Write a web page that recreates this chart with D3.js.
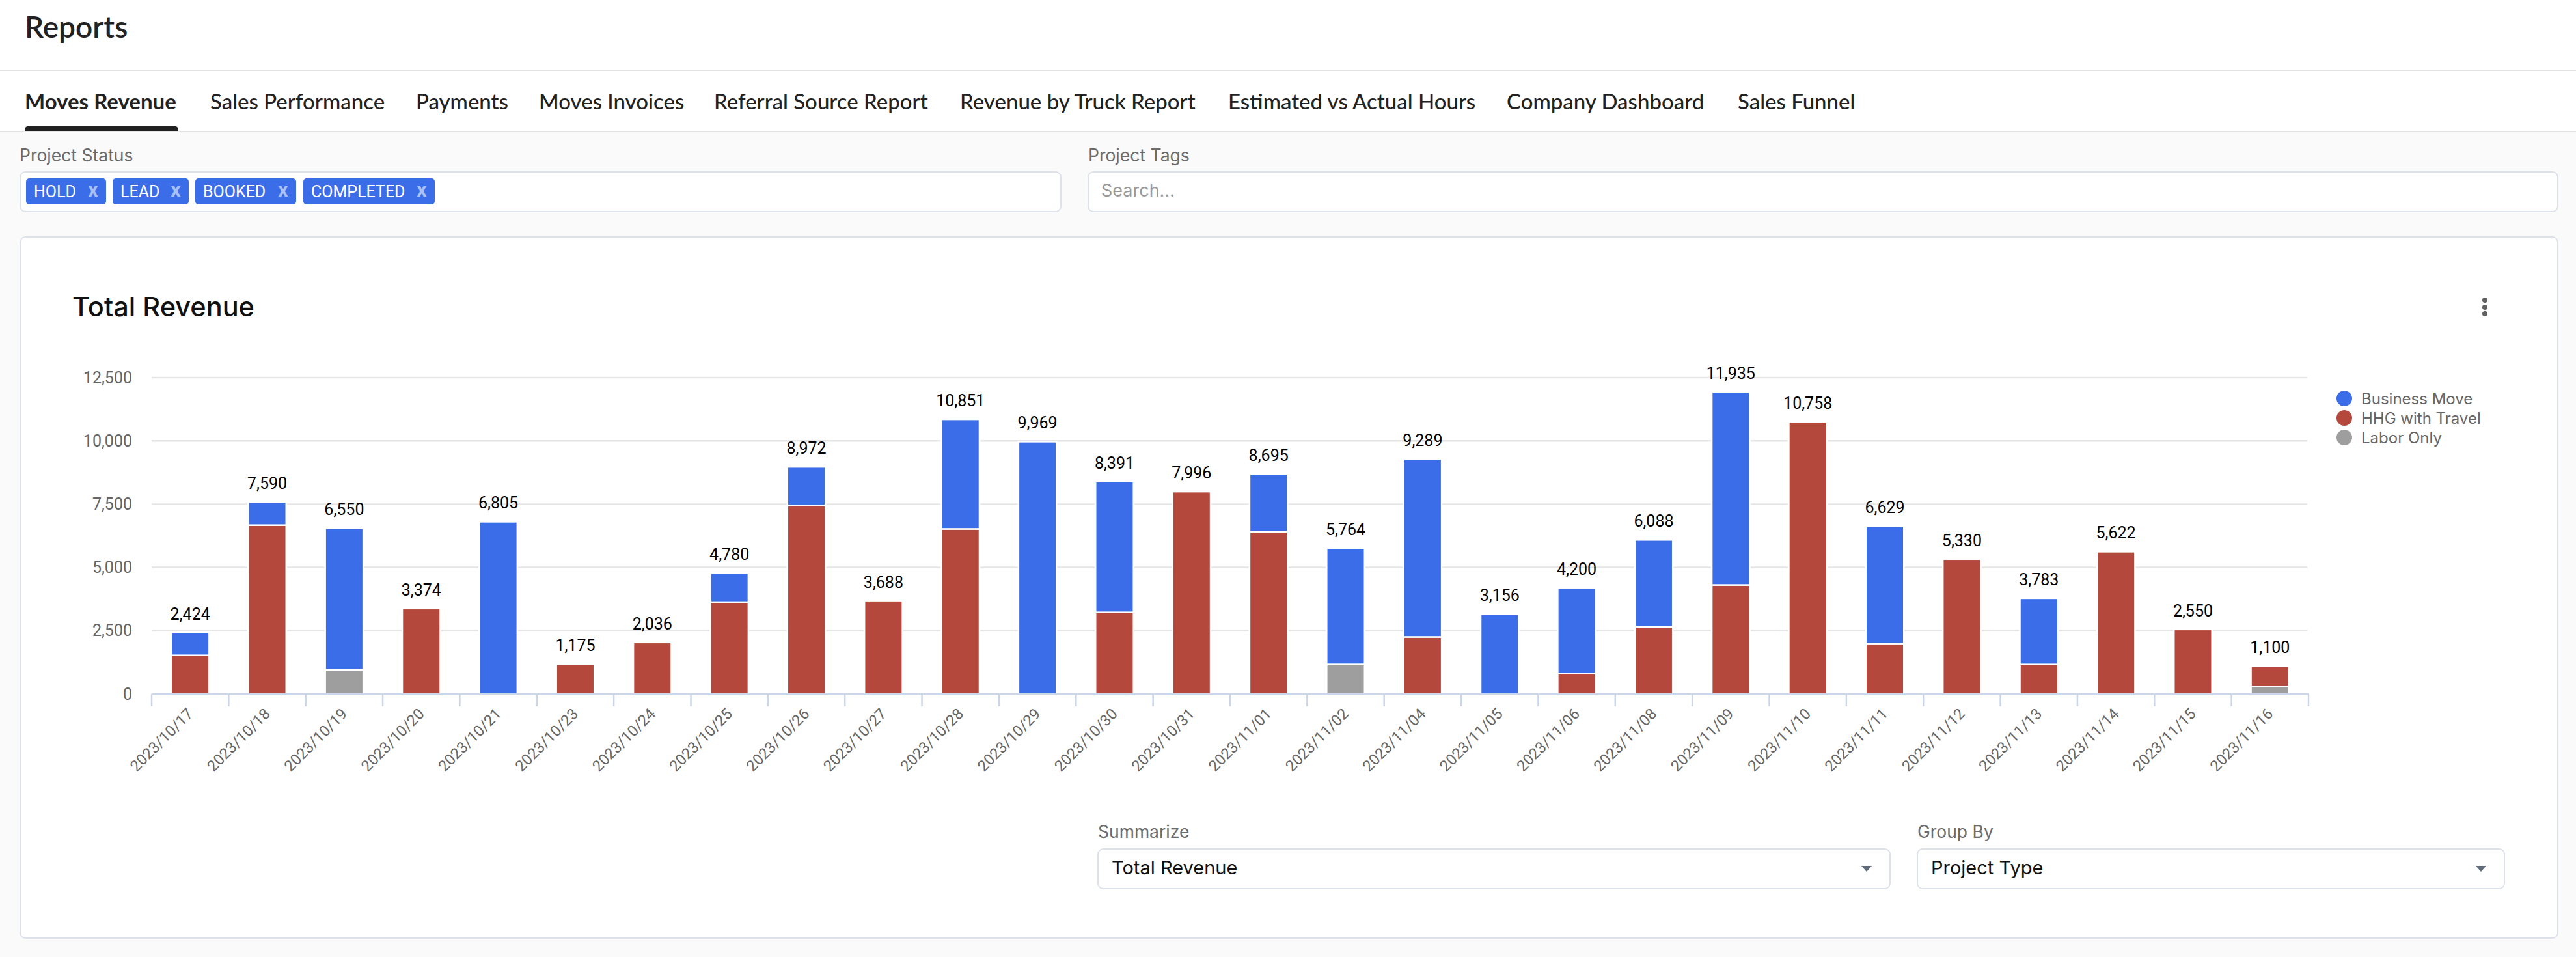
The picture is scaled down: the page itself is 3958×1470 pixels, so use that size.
<!doctype html>
<html>
<body>
<style type="text/css">
    html,body{
        margin: 0;
        overflow: hidden;
        background: #fafafa;
    }
    text { font-family: "Roboto", sans-serif; }
    .ui { font-family: "Lato", sans-serif; }
    .lab { font-family: "Inter", sans-serif; }
</style>
<script src="https://cdn.jsdelivr.net/npm/d3@7"></script>
<script type="text/javascript">
var dates = ["2023/10/17","2023/10/18","2023/10/19","2023/10/20","2023/10/21","2023/10/23","2023/10/24",
    "2023/10/25","2023/10/26","2023/10/27","2023/10/28","2023/10/29","2023/10/30","2023/10/31",
    "2023/11/01","2023/11/02","2023/11/04","2023/11/05","2023/11/06","2023/11/08","2023/11/09",
    "2023/11/10","2023/11/11","2023/11/12","2023/11/13","2023/11/14","2023/11/15","2023/11/16"];
var businessMove = [899,920,5590,0,6805,0,0,1150,1527,0,4329,9969,5167,0,2284,4595,7037,3156,3388,3430,7628,0,4635,0,2617,0,0,0];
var hhgWithTravel = [1525,6670,0,3374,0,1175,2036,3630,7445,3688,6522,0,3224,7996,6411,0,2252,0,812,2658,4307,10758,1994,5330,1166,5622,2550,800];
var laborOnly = [0,0,960,0,0,0,0,0,0,0,0,0,0,0,0,1169,0,0,0,0,0,0,0,0,0,0,0,300];
var totals = [2424,7590,6550,3374,6805,1175,2036,4780,8972,3688,10851,9969,8391,7996,8695,5764,9289,3156,4200,6088,11935,10758,6629,5330,3783,5622,2550,1100];
var yTicks = [0,2500,5000,7500,10000,12500];
var seriesNames = ["Business Move","HHG with Travel","Labor Only"];
var seriesColors = ["#3b6de8","#b5483c","#9e9e9e"];
var tabs = ["Moves Revenue","Sales Performance","Payments","Moves Invoices","Referral Source Report","Revenue by Truck Report","Estimated vs Actual Hours","Company Dashboard","Sales Funnel"];
var statusChips = ["HOLD","LEAD","BOOKED","COMPLETED"];

(function(){
    var w = 3958, h = 1470;
    var svg = d3.select("body").append("svg")
        .attr("width", w).attr("height", h)
        .style("display", "block");

    // page chrome
    svg.append("rect").attr("width", w).attr("height", 202).attr("fill", "#fff");
    [108,202].forEach(function(y){
        svg.append("rect").attr("x",0).attr("y",y-1).attr("width",w).attr("height",2).attr("fill","#e2e2e2");
    });
    svg.append("text").attr("class","ui").attr("x",38).attr("y",58)
        .attr("font-size",46).attr("font-weight",600).attr("fill","#222").text("Reports");

    var tabX = [38,323,639,828,1097,1475,1887,2315,2670];
    svg.selectAll(".tab").data(tabs).enter().append("text")
        .attr("class","ui tab")
        .attr("x",function(d,i){return tabX[i]})
        .attr("y",168)
        .attr("font-size",33)
        .attr("font-weight",function(d,i){return i==0?700:500})
        .attr("fill","#222")
        .text(function(d){return d});
    svg.append("path").attr("d","M38,201V199a5,5 0 0 1 5,-5H269a5,5 0 0 1 5,5V201Z").attr("fill","#212121");

    function box(x,y,bw,bh){
        svg.append("rect").attr("x",x).attr("y",y).attr("width",bw).attr("height",bh).attr("rx",8)
            .attr("fill","#fff").attr("stroke","#dde1ea").attr("stroke-width",2);
    }
    function label(x,y,s){
        svg.append("text").attr("class","lab").attr("x",x).attr("y",y).attr("font-size",26.5)
            .attr("fill","#6b6b6b").text(s);
    }
    label(30,248,"Project Status");
    box(31,264,1599,61);
    label(1672,248,"Project Tags");
    box(1672,264,2258,61);
    svg.append("text").attr("class","lab").attr("x",1692).attr("y",302).attr("font-size",27).attr("fill","#9a9a9a").text("Search...");

    var chipX = [40,173,300,466], chipW = [123,117,155,202];
    var chip = svg.selectAll(".chip").data(statusChips).enter().append("g")
        .attr("transform",function(d,i){return "translate("+chipX[i]+",274)"});
    chip.append("rect").attr("width",function(d,i){return chipW[i]}).attr("height",40).attr("rx",5).attr("fill","#3b6de8");
    chip.append("text").attr("x",12).attr("y",29).attr("font-size",25).attr("fill","#fff").text(function(d){return d});
    chip.append("text").attr("x",function(d,i){return chipW[i]-20}).attr("y",28).attr("text-anchor","middle")
        .attr("font-size",30).attr("font-weight",700).attr("fill","#a9c0f5").text("x");

    // chart card
    box(31,364,3899,1077);
    svg.append("text").attr("class","lab").attr("x",111).attr("y",486).attr("font-size",41.5).attr("font-weight",500).attr("fill","#111").text("Total Revenue");
    [461,472,482].forEach(function(y){
        svg.append("circle").attr("cx",3818).attr("cy",y).attr("r",4).attr("fill","#616161");
    });

    var x = d3.scaleBand().domain(dates).range([233,3547]).paddingInner(0.506).paddingOuter(0.253);
    var y = d3.scaleLinear().domain([0,12500]).range([1066,580]);

    // gridlines
    svg.selectAll(".grid").data(yTicks.slice(1)).enter().append("line")
        .attr("x1",233).attr("x2",3545)
        .attr("y1",function(d){return y(d)}).attr("y2",function(d){return y(d)})
        .attr("stroke","#e6e6e6").attr("stroke-width",2.5);

    // stacked bars
    var rows = dates.map(function(d,i){
        return {date:d, business:businessMove[i], hhg:hhgWithTravel[i], labor:laborOnly[i]};
    });
    var keys = ["business","hhg","labor"];
    var stack = d3.stack().keys(keys.slice().reverse());
    svg.selectAll(".layer").data(stack(rows)).enter().append("g")
        .attr("fill",function(d){return seriesColors[keys.indexOf(d.key)]})
        .selectAll("rect").data(function(d){return d.filter(function(s){return s[1]>s[0]})}).enter().append("rect")
        .attr("x",function(d){return x(d.data.date)})
        .attr("y",function(d){return y(d[1])})
        .attr("width",x.bandwidth())
        .attr("height",function(d){return y(d[0])-y(d[1])})
        .attr("stroke","#fff").attr("stroke-width",2.5);

    // totals above the bars
    svg.selectAll(".total").data(totals).enter().append("text")
        .attr("x",function(d,i){return x(dates[i])+x.bandwidth()/2})
        .attr("y",function(d){return y(d)-20})
        .attr("text-anchor","middle").attr("font-size",25).attr("fill","#000")
        .text(d3.format(","));

    // y axis
    var yAxis = d3.axisLeft(y).tickValues(yTicks).tickFormat(d3.format(",")).tickSize(0).tickPadding(0);
    var gy = svg.append("g").attr("transform","translate(203,0)").call(yAxis);
    gy.select(".domain").remove();
    gy.selectAll("text").attr("font-size",25).attr("fill","#666").style("font-family","Roboto");

    // x axis
    var gx = svg.append("g").attr("transform","translate(0,1066)");
    gx.append("line").attr("x1",233).attr("x2",3547).attr("stroke","#ccd6eb").attr("stroke-width",2.5);
    var edges = dates.map(function(d){return x(d)+x.bandwidth()/2-x.step()/2}).concat([3547]);
    gx.selectAll(".tick").data(edges).enter().append("line")
        .attr("x1",function(d){return d}).attr("x2",function(d){return d})
        .attr("y1",0).attr("y2",19)
        .attr("stroke","#ccd6eb").attr("stroke-width",2.5);
    gx.selectAll(".lbl").data(dates).enter().append("text")
        .attr("transform",function(d){return "translate("+(x(d)+x.bandwidth()/2+6)+",32) rotate(-45)"})
        .attr("text-anchor","end")
        .attr("font-size",23.5).attr("fill","#666")
        .text(function(d){return d});

    // legend
    var legend = svg.selectAll(".legend").data(seriesNames).enter().append("g")
        .attr("transform",function(d,i){return "translate(3602,"+(612+i*30)+")"});
    legend.append("circle").attr("r",12).attr("fill",function(d,i){return seriesColors[i]});
    legend.append("text").attr("class","lab").attr("x",26).attr("y",9).attr("font-size",24).attr("fill","#666").text(function(d){return d});

    // bottom selects
    function select(x0,bw,name,value){
        label(x0,1287,name);
        box(x0,1304,bw,61);
        svg.append("text").attr("class","lab").attr("x",x0+21).attr("y",1343).attr("font-size",29).attr("fill","#111").text(value);
        var cx = x0+bw-36;
        svg.append("path").attr("d","M"+(cx-8)+",1330H"+(cx+8)+"L"+cx+",1339Z").attr("fill","#5f6b7a");
    }
    select(1687,1217,"Summarize","Total Revenue");
    select(2946,902,"Group By","Project Type");
})();
</script>
</body>
</html>
